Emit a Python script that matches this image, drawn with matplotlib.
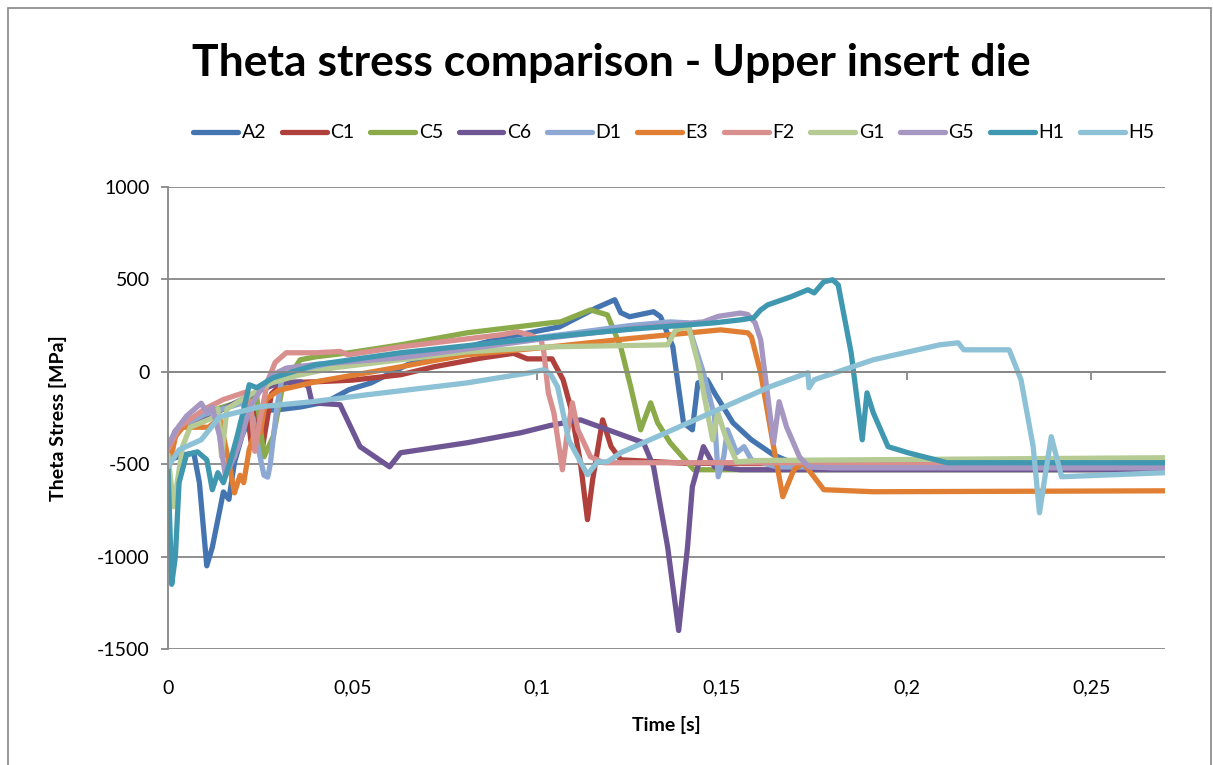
import matplotlib
matplotlib.use("Agg")
import matplotlib.pyplot as plt
from matplotlib.patches import Rectangle

plt.rcParams['font.family'] = ['Lato', 'DejaVu Sans']

# --- DATA ---
A2_t = [0, 0.004, 0.007, 0.0085, 0.0105, 0.012, 0.015, 0.0165, 0.018, 0.020, 0.022, 0.025,
        0.030, 0.036, 0.043, 0.049, 0.055, 0.060, 0.065, 0.07, 0.08, 0.09, 0.1, 0.106, 0.116,
        0.121, 0.1226, 0.125, 0.1315, 0.1334, 0.1367, 0.1396, 0.142, 0.1435, 0.146, 0.148,
        0.153, 0.158, 0.164, 0.17, 0.18, 0.27]
A2_v = [-480, -450, -440, -600, -1050, -950, -650, -690, -490, -350, -250, -210,
        -205, -190, -162, -97, -60, -10, 40, 70, 130, 180, 220, 243, 346,
        390, 320, 298, 325, 298, 137, -276, -314, -60, -43, -114,
        -276, -368, -450, -500, -520, -520]

C1_t = [0, 0.002, 0.005, 0.01, 0.015, 0.021, 0.0225, 0.024, 0.0255, 0.028, 0.031, 0.04,
        0.05, 0.063, 0.072, 0.085, 0.0936, 0.0973, 0.104, 0.1045, 0.107, 0.109, 0.1117,
        0.1136, 0.115, 0.1177, 0.12, 0.1226, 0.14, 0.27]
C1_v = [-420, -320, -280, -250, -200, -150, -380, -200, -420, -120, -60, -54,
        -45, -16, 27, 75, 100, 70, 70, 50, -43, -189, -492,
        -800, -584, -260, -405, -476, -495, -505]

C5_t = [0, 0.003, 0.01, 0.02, 0.024, 0.026, 0.0285, 0.031, 0.0358, 0.04, 0.049, 0.063,
        0.081, 0.1036, 0.1063, 0.1144, 0.119, 0.1226, 0.1253, 0.128, 0.1307, 0.1326, 0.136,
        0.1424, 0.27]
C5_v = [-450, -300, -220, -160, -130, -460, -350, -81, 65, 81, 103, 146,
        211, 265, 270, 335, 308, 135, -81, -314, -168, -276, -384,
        -530, -530]

C6_t = [0, 0.003, 0.01, 0.02, 0.025, 0.03, 0.036, 0.038, 0.039, 0.0466, 0.052, 0.06,
        0.063, 0.072, 0.081, 0.0955, 0.1036, 0.1117, 0.1288, 0.1315, 0.1353, 0.1383, 0.1407,
        0.142, 0.145, 0.148, 0.155, 0.27]
C6_v = [-420, -300, -250, -150, -100, -60, -54, -80, -168, -178, -405, -514,
        -438, -411, -384, -330, -290, -260, -384, -514, -947, -1400, -947,
        -622, -405, -514, -530, -530]

D1_t = [0, 0.003, 0.01, 0.02, 0.023, 0.0245, 0.026, 0.027, 0.0277, 0.0295, 0.031, 0.04,
        0.05, 0.07, 0.09, 0.11, 0.125, 0.136, 0.1407, 0.145, 0.148, 0.149, 0.1505, 0.1515,
        0.154, 0.156, 0.158, 0.165, 0.27]
D1_v = [-450, -300, -230, -170, -250, -420, -560, -570, -500, -190, -20, 20,
        60, 110, 160, 210, 250, 270, 265, -5, -243, -568, -460, -314,
        -438, -405, -476, -515, -515]

E3_t = [0, 0.002, 0.004, 0.011, 0.014, 0.0165, 0.018, 0.0195, 0.0205, 0.022, 0.024, 0.025,
        0.0265, 0.030, 0.04, 0.063, 0.08, 0.1036, 0.125, 0.1497, 0.157, 0.158, 0.1605, 0.164,
        0.1665, 0.1695, 0.172, 0.1776, 0.191, 0.27]
E3_v = [-550, -350, -300, -300, -250, -490, -655, -560, -600, -420, -300, -330,
        -150, -100, -54, 27, 90, 135, 180, 227, 211, 189, -5, -405,
        -676, -530, -492, -638, -649, -644]

F2_t = [0, 0.003, 0.01, 0.015, 0.021, 0.0225, 0.0235, 0.025, 0.027, 0.029, 0.032, 0.04,
        0.0466, 0.0487, 0.063, 0.09, 0.0946, 0.098, 0.101, 0.1017, 0.103, 0.1045, 0.1068,
        0.108, 0.1095, 0.111, 0.1144, 0.118, 0.27]
F2_v = [-420, -300, -200, -150, -110, -200, -430, -250, -50, 50, 103, 103,
        110, 92, 135, 200, 216, 200, 173, 119, -114, -222, -530,
        -351, -168, -314, -460, -492, -492]

G1_t = [0, 0.0015, 0.004, 0.006, 0.012, 0.0135, 0.0145, 0.016, 0.02, 0.028, 0.035, 0.045,
        0.063, 0.081, 0.1036, 0.1353, 0.1375, 0.141, 0.1435, 0.1475, 0.1489, 0.151, 0.154,
        0.16, 0.27]
G1_v = [-450, -730, -400, -300, -250, -200, -460, -200, -150, -60, -20, 22,
        65, 108, 135, 146, 227, 243, 49, -368, -222, -351, -487,
        -480, -465]

G5_t = [0, 0.002, 0.005, 0.009, 0.0105, 0.012, 0.014, 0.0155, 0.018, 0.020, 0.022, 0.025,
        0.028, 0.032, 0.04, 0.063, 0.1036, 0.13, 0.145, 0.149, 0.155, 0.157, 0.159, 0.1605,
        0.164, 0.1655, 0.1675, 0.171, 0.1735, 0.18, 0.27]
G5_v = [-400, -320, -240, -170, -220, -190, -350, -560, -460, -350, -200, -100,
        -20, 20, 40, 76, 184, 245, 270, 300, 318, 310, 265, 173,
        -384, -162, -298, -460, -514, -520, -520]

H1_t = [0, 0.001, 0.002, 0.003, 0.005, 0.008, 0.0105, 0.012, 0.0135, 0.015, 0.017, 0.0187,
        0.0203, 0.022, 0.024, 0.0285, 0.04, 0.063, 0.1036, 0.125, 0.148, 0.155, 0.1586,
        0.1605, 0.1624, 0.1687, 0.1733, 0.175, 0.1776, 0.18, 0.1815, 0.185, 0.188, 0.1893,
        0.191, 0.195, 0.2004, 0.211, 0.27]
H1_v = [-514, -1150, -1000, -600, -449, -433, -476, -638, -546, -600, -476, -351,
        -222, -70, -86, -32, 38, 103, 189, 230, 265, 281, 292,
        335, 362, 406, 444, 427, 487, 498, 470, 103, -368, -114,
        -222, -405, -438, -492, -492]

H5_t = [0, 0.003, 0.009, 0.014, 0.025, 0.039, 0.054, 0.081, 0.098, 0.1017, 0.1035, 0.1055,
        0.1085, 0.1136, 0.1163, 0.119, 0.1226, 0.163, 0.1733, 0.1736, 0.175, 0.191, 0.209,
        0.214, 0.2155, 0.2278, 0.231, 0.2343, 0.236, 0.2375, 0.2392, 0.242, 0.27]
H5_v = [-514, -422, -368, -243, -189, -162, -124, -60, -5, 11, -10, -81,
        -368, -557, -487, -487, -438, -81, -5, -86, -43, 65, 146,
        157, 119, 119, -43, -405, -763, -568, -351, -568, -546]

series_names = ['A2', 'C1', 'C5', 'C6', 'D1', 'E3', 'F2', 'G1', 'G5', 'H1', 'H5']
series_t = [A2_t, C1_t, C5_t, C6_t, D1_t, E3_t, F2_t, G1_t, G5_t, H1_t, H5_t]
series_v = [A2_v, C1_v, C5_v, C6_v, D1_v, E3_v, F2_v, G1_v, G5_v, H1_v, H5_v]
colors = ['#4475B0', '#B0403C', '#8BAA4A', '#6E5594', '#8DA9D3', '#E07F33',
          '#D88F8D', '#B5CB93', '#A696C2', '#3F98B0', '#8DC1D6']

x_ticks = [0, 0.05, 0.1, 0.15, 0.2, 0.25]
x_labels = ['0', '0,05', '0,1', '0,15', '0,2', '0,25']
y_ticks = [-1500, -1000, -500, 0, 500, 1000]
y_labels = ['-1500', '-1000', '-500', '0', '500', '1000']

GRID = '#878787'

fig = plt.figure(figsize=(12.13, 7.65), dpi=100)
ax = fig.add_axes([168 / 1213, 1 - 649 / 765, (1165 - 168) / 1213, (649 - 187) / 765])

for name, t, v, c in zip(series_names, series_t, series_v, colors):
    ax.plot(t, v, '-', color=c, linewidth=3.8, label=name,
            solid_joinstyle='round', solid_capstyle='round')

ax.set_xlim(0, 0.27)
ax.set_ylim(-1500, 1000)
ax.set_yticks(y_ticks)
ax.set_yticklabels(y_labels, fontsize=14)
ax.grid(True, axis='y', color=GRID, linewidth=1.3)
ax.set_axisbelow(True)

# horizontal axis crosses at 0, labels sit below the plot area
for s in ['top', 'right']:
    ax.spines[s].set_visible(False)
ax.spines['left'].set_color(GRID)
ax.spines['left'].set_linewidth(1.3)
ax.spines['bottom'].set_position(('data', 0))
ax.spines['bottom'].set_color(GRID)
ax.spines['bottom'].set_linewidth(1.3)
ax.set_xticks(x_ticks)
ax.tick_params(axis='x', direction='out', length=6, width=1.3, color=GRID,
               labelbottom=False)
ax.tick_params(axis='y', direction='out', length=5, width=1.3, color=GRID, pad=8)

sec = ax.secondary_xaxis('bottom')
sec.set_xticks(x_ticks)
sec.set_xticklabels(x_labels, fontsize=14)
sec.tick_params(length=0, pad=22)
sec.spines['bottom'].set_visible(False)

fig.text(0.504, 0.918, 'Theta stress comparison - Upper insert die',
         ha='center', va='center', fontsize=32, fontweight='bold')
fig.text(58 / 1213, 1 - 418 / 765, 'Theta Stress [MPa]', rotation=90,
         ha='center', va='center', fontsize=14, fontweight='bold')
fig.text(666 / 1213, 1 - 725 / 765, 'Time [s]',
         ha='center', va='center', fontsize=14, fontweight='bold')

fig.legend(loc='center', bbox_to_anchor=(674 / 1213, 1 - 133 / 765), ncol=11,
           frameon=False, fontsize=14, handlelength=2.3, handletextpad=0.2,
           columnspacing=0.8)

# chart area border
fig.patches.append(Rectangle((8 / 1213, -0.01), 1 - 10 / 1213, 1 - 8 / 765 + 0.01,
                             transform=fig.transFigure, fill=False,
                             edgecolor='#868686', linewidth=1.2))

fig.savefig('out.png', dpi=100)
